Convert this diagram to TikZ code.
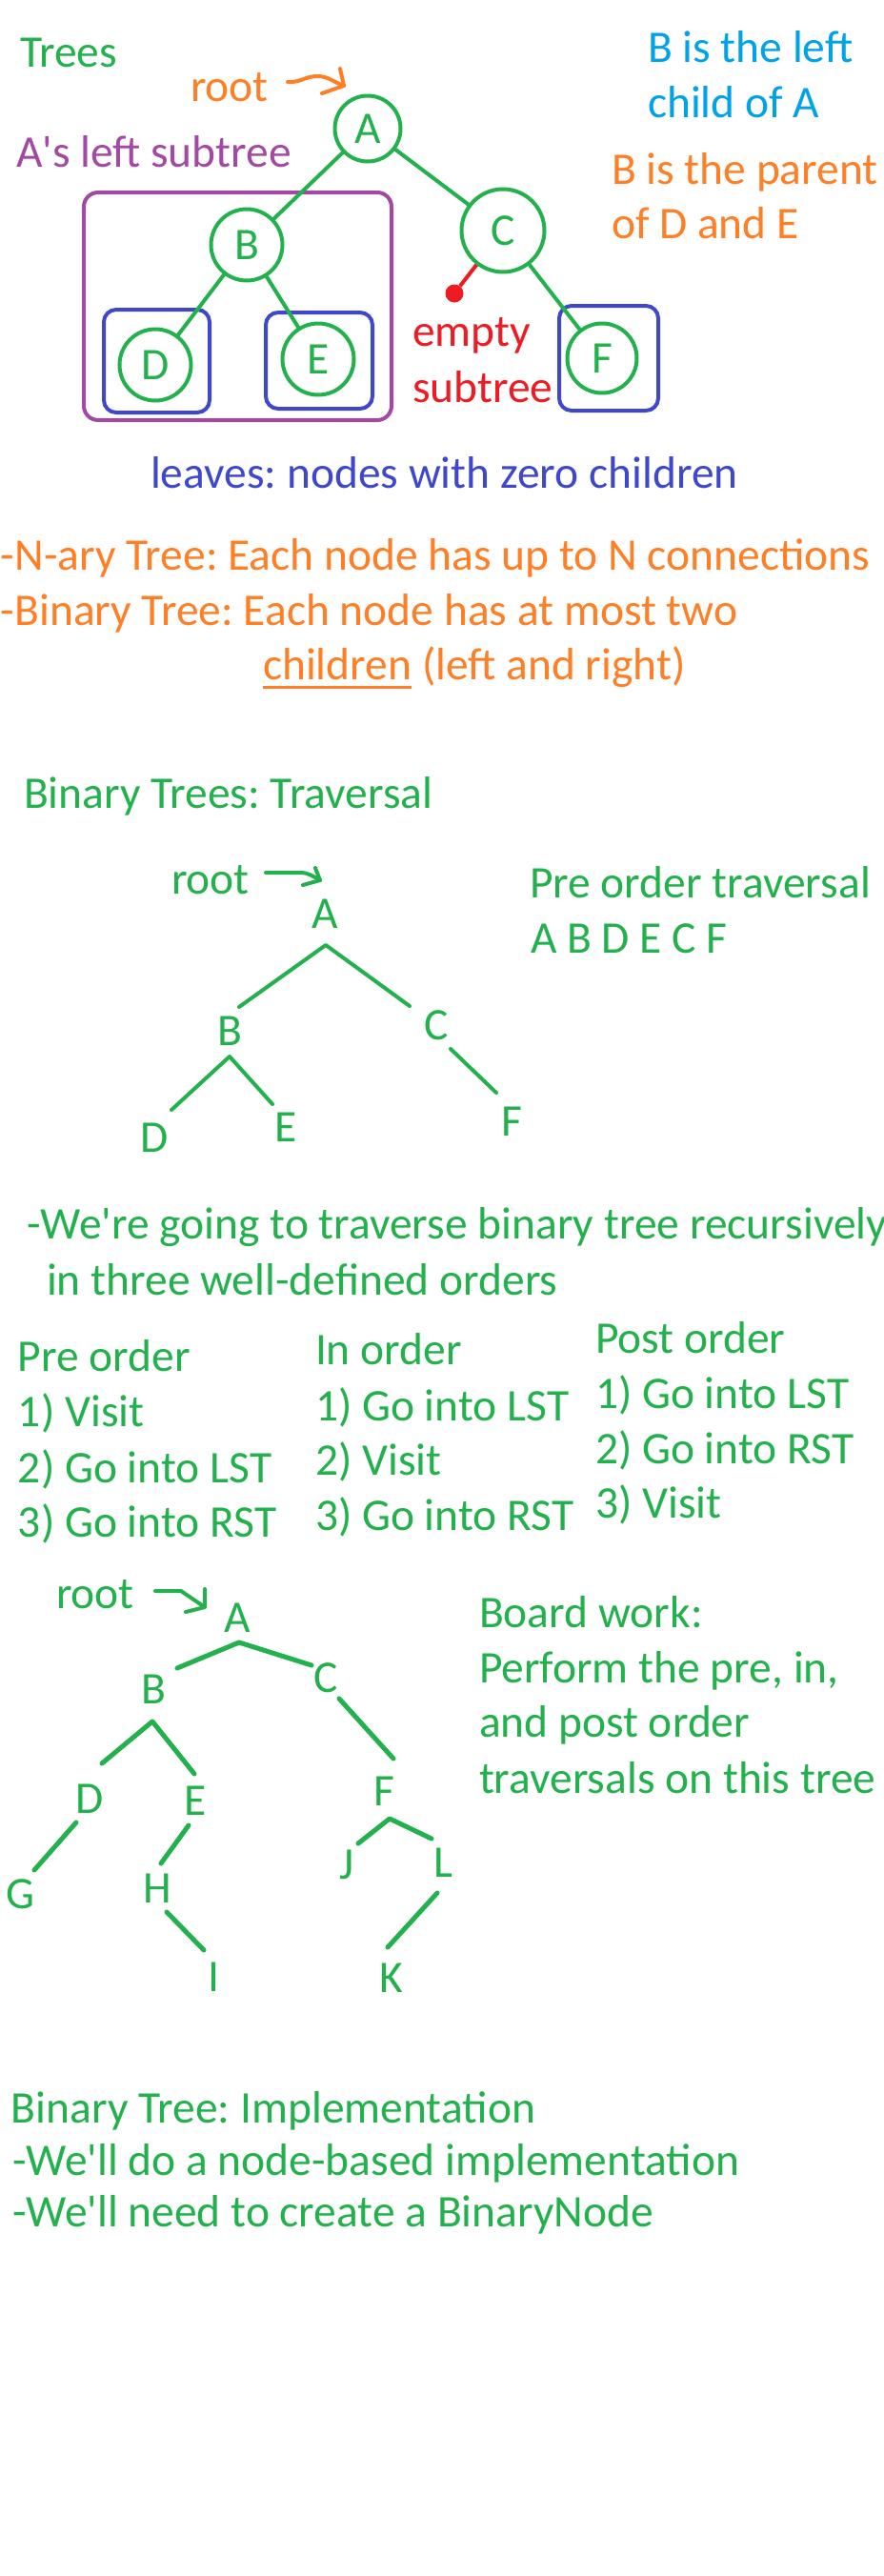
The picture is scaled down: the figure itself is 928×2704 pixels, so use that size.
\documentclass[tikz,border=0pt]{standalone}
\usepackage{fontspec}
\setmainfont{Carlito}[Ligatures=TeXOff]
\frenchspacing
\usetikzlibrary{calc}
\definecolor{pgreen}{RGB}{34,177,76}
\definecolor{porange}{RGB}{255,127,39}
\definecolor{ppurple}{RGB}{163,73,164}
\definecolor{pblue}{RGB}{63,72,204}
\definecolor{pred}{RGB}{237,28,36}
\definecolor{pcyan}{RGB}{0,162,232}
\begin{document}
\frenchspacing
\begin{tikzpicture}[x=1pt,y=-1pt,
  txt/.style={font=\fontsize{47.5}{57}\selectfont, inner sep=0pt, outer sep=0pt, anchor=base west},
  gtxt/.style={txt, text=pgreen},
  lett/.style={txt, anchor=base, text=pgreen},
  tcirc/.style={circle, draw=pgreen, line width=4pt, text=pgreen, inner sep=0pt, font=\fontsize{47.5}{57}\selectfont},
  treeline/.style={draw=pgreen, line width=4pt, line cap=round, line join=round},
  thickline/.style={draw=pgreen, line width=5pt, line cap=round, line join=round},
  leafbox/.style={draw=pblue, line width=4pt, rounded corners=13pt},
  subbox/.style={draw=ppurple, line width=4pt, rounded corners=15pt},
  handarrow/.style={line width=4pt, line cap=round, line join=round}
]
\useasboundingbox (0,0) rectangle (928,2704);
\fill[white] (0,0) rectangle (928,2704);

% ---------- Section 1 ----------
\node[gtxt] (trees) at (21,70) {Trees};
\node[txt, text=porange] (root1) at (200,106) {root};
\coordinate (o1) at (302,86);
\coordinate (o2) at (333,80);
\coordinate (o3) at (361,90);
\coordinate (o4) at (357,72);
\coordinate (o5) at (338,98);
\draw[handarrow, porange] (o1) to[out=-5,in=180] (o2) to[out=0,in=160] (o3);
\draw[handarrow, porange] (o4) -- (o3) -- (o5);
\node[txt, text=ppurple] (lsub) at (17,175) {A's left subtree};
\node[txt, text=pcyan] (bl1) at (680,65) {B is the left};
\node[txt, text=pcyan] (bl2) at (680,123) {child of A};
\node[txt, text=porange] (bp1) at (642,193) {B is the parent};
\node[txt, text=porange] (bp2) at (642,250) {of D and E};

\draw[subbox] (88,202) rectangle (411,441);
\draw[leafbox] (109,325) rectangle (220,433);
\draw[leafbox] (279,328) rectangle (391,429);
\draw[leafbox] (587,321) rectangle (691,431);

\node[tcirc, minimum size=69pt] (cA) at (386,135) {A};
\node[tcirc, minimum size=75pt] (cB) at (259,257) {B};
\node[tcirc, minimum size=87pt] (cC) at (528,242) {C};
\node[tcirc, minimum size=75pt] (cD) at (163,383) {D};
\node[tcirc, minimum size=75pt] (cE) at (334,377) {E};
\node[tcirc, minimum size=73pt] (cF) at (632,376) {F};
\draw[treeline] (cA) -- (cB);
\draw[treeline] (cA) -- (cC);
\draw[treeline] (cB) -- (cD);
\draw[treeline] (cB) -- (cE);
\draw[treeline] (cC) -- (cF);

\node[circle, fill=pred, minimum size=19pt, inner sep=0pt] (dot) at (477,308) {};
\draw[pred, line width=4pt] (cC) -- (dot);
\node[txt, text=pred] (emp1) at (433,363) {empty};
\node[txt, text=pred] (emp2) at (433,422) {subtree};

\node[txt, text=pblue] (leaves) at (158,512) {leaves: nodes with zero children};
\node[txt, text=porange] (nary) at (1,598) {-N-ary Tree: Each node has up to N connections};
\node[txt, text=porange] (bin1) at (1,656) {-Binary Tree: Each node has at most two};
\node[txt, text=porange] (chw) at (276,713) {children};
\node[txt, text=porange, anchor=base west] (lar) at (chw.base east) {\ (left and right)};
\draw[porange, line width=3pt] ([yshift=-8pt]chw.base west) -- ([yshift=-8pt]chw.base east);

% ---------- Section 2 ----------
\node[gtxt] (trav) at (25,848) {Binary Trees: Traversal};
\node[gtxt] (root2) at (180,938) {root};
\coordinate (g1) at (279,916);
\coordinate (g2) at (315,916);
\coordinate (g3) at (336,924);
\coordinate (g4) at (331,911);
\coordinate (g5) at (318,929);
\draw[handarrow, pgreen] (g1) -- (g2) to[out=0,in=150] (g3);
\draw[handarrow, pgreen] (g4) -- (g3) -- (g5);

\node[lett] (tA) at (341,974) {A};
\node[lett] (tB) at (241,1097) {B};
\node[lett] (tC) at (458,1091) {C};
\node[lett] (tD) at (162,1209) {D};
\node[lett] (tE) at (300,1198) {E};
\node[lett] (tF) at (537,1192) {F};
\coordinate (tAa) at (342,992);
\coordinate (tAb) at (251,1057);
\coordinate (tAc) at (430,1056);
\coordinate (tBa) at (241,1109);
\coordinate (tBd) at (180,1165);
\coordinate (tBe) at (286,1159);
\coordinate (tCa) at (473,1101);
\coordinate (tCf) at (521,1147);
\draw[treeline] (tAb) -- (tAa) -- (tAc);
\draw[treeline] (tBd) -- (tBa) -- (tBe);
\draw[treeline] (tCa) -- (tCf);

\node[gtxt] (pot) at (556,942) {Pre order traversal};
\node[gtxt] (seq) at (557,1000) {A B D E C F};

% ---------- Section 3 ----------
\node[gtxt] (rec1) at (28,1300) {-We're going to traverse binary tree recursively};
\node[gtxt] (rec2) at (49,1359) {in three well-defined orders};

\node[gtxt] (pre0) at (19,1439) {Pre order};
\node[gtxt] (pre1) at (19,1497) {1) Visit};
\node[gtxt] (pre2) at (19,1556) {2) Go into LST};
\node[gtxt] (pre3) at (19,1613) {3) Go into RST};

\node[gtxt] (in0) at (331,1432) {In order};
\node[gtxt] (in1) at (331,1491) {1) Go into LST};
\node[gtxt] (in2) at (331,1548) {2) Visit};
\node[gtxt] (in3) at (331,1606) {3) Go into RST};

\node[gtxt] (post0) at (625,1420) {Post order};
\node[gtxt] (post1) at (625,1478) {1) Go into LST};
\node[gtxt] (post2) at (625,1536) {2) Go into RST};
\node[gtxt] (post3) at (625,1593) {3) Visit};

% ---------- Section 4 ----------
\node[gtxt] (root3) at (59,1688) {root};
\coordinate (h1) at (163,1670);
\coordinate (h2) at (190,1670);
\coordinate (h3) at (215,1687);
\coordinate (h4) at (215,1668);
\coordinate (h5) at (195,1692);
\draw[handarrow, pgreen] (h1) -- (h2) -- (h3);
\draw[handarrow, pgreen] (h4) -- (h3) -- (h5);

\node[lett] (uA) at (249,1713) {A};
\node[lett] (uB) at (161,1788) {B};
\node[lett] (uC) at (342,1776) {C};
\node[lett] (uD) at (94,1903) {D};
\node[lett] (uE) at (205,1905) {E};
\node[lett] (uF) at (403,1895) {F};
\node[lett] (uG) at (21,2003) {G};
\node[lett] (uH) at (165,1997) {H};
\node[lett] (uJ) at (364,1972) {J};
\node[lett] (uL) at (465,1970) {L};
\node[lett] (uI) at (224,2090) {I};
\node[lett] (uK) at (411,2091) {K};

\coordinate (uAa) at (251,1724);
\coordinate (uAb) at (186,1751);
\coordinate (uAc) at (327,1748);
\coordinate (uBa) at (160,1807);
\coordinate (uBd) at (107,1851);
\coordinate (uBe) at (204,1862);
\coordinate (uCa) at (356,1783);
\coordinate (uCf) at (413,1846);
\coordinate (uDa) at (80,1913);
\coordinate (uDg) at (36,1963);
\coordinate (uEa) at (198,1916);
\coordinate (uEh) at (169,1956);
\coordinate (uFa) at (409,1909);
\coordinate (uFj) at (376,1935);
\coordinate (uFl) at (453,1930);
\coordinate (uHa) at (175,2007);
\coordinate (uHi) at (214,2047);
\coordinate (uLa) at (459,1987);
\coordinate (uLk) at (407,2044);
\draw[thickline] (uAb) -- (uAa) -- (uAc);
\draw[thickline] (uBd) -- (uBa) -- (uBe);
\draw[thickline] (uCa) -- (uCf);
\draw[thickline] (uDa) -- (uDg);
\draw[thickline] (uEa) -- (uEh);
\draw[thickline] (uFj) -- (uFa) -- (uFl);
\draw[thickline] (uHa) -- (uHi);
\draw[thickline] (uLa) -- (uLk);

\node[gtxt] (bw1) at (503,1708) {Board work:};
\node[gtxt] (bw2) at (503,1766) {Perform the pre, in,};
\node[gtxt] (bw3) at (503,1823) {and post order};
\node[gtxt] (bw4) at (503,1882) {traversals on this tree};

% ---------- Section 5 ----------
\node[gtxt] (impl0) at (12,2228) {Binary Tree: Implementation};
\node[gtxt] (impl1) at (13,2283) {-We'll do a node-based implementation};
\node[gtxt] (impl2) at (13,2337) {-We'll need to create a BinaryNode};
\end{tikzpicture}
\end{document}
